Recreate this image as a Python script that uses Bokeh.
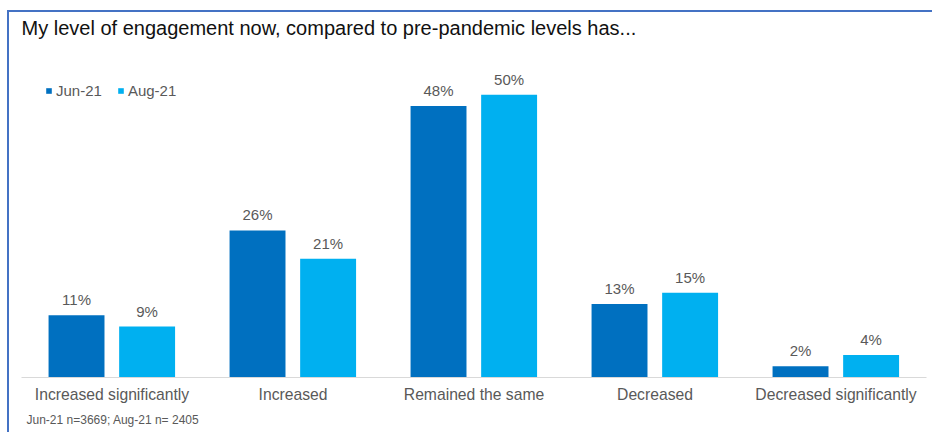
from bokeh.plotting import figure
from bokeh.models import ColumnDataSource, FactorRange, Range1d, LabelSet, Legend, LegendItem, Title
from bokeh.core.properties import value
from bokeh.transform import dodge
from bokeh.embed import file_html
from bokeh.resources import INLINE

categories = ["Increased significantly", "Increased", "Remained the same", "Decreased", "Decreased significantly"]
series_names = ["Jun-21", "Aug-21"]
jun21 = [11, 26, 48, 13, 2]
aug21 = [9, 21, 50, 15, 4]
title_text = "My level of engagement now, compared to pre-pandemic levels has..."
footnote = "Jun-21 n=3669; Aug-21 n= 2405"

colors = ["#0070C0", "#00B0F0"]
FONT = "Liberation Sans"
GRAY = "#595959"
FRAME_BLUE = "#4472C4"

src = ColumnDataSource(dict(
    cat=categories, jun=jun21, aug=aug21,
    jun_lbl=[f"{v}%" for v in jun21], aug_lbl=[f"{v}%" for v in aug21]))

p = figure(width=925, height=423,
           x_range=FactorRange(factors=categories, range_padding=0),
           y_range=Range1d(0, 59.07),
           output_backend="svg", toolbar_location=None, title=title_text,
           min_border_left=14, min_border_right=6, min_border_top=34, min_border_bottom=55)
p.border_fill_alpha = 0
p.background_fill_alpha = 0
grad = f"linear-gradient({FRAME_BLUE}, {FRAME_BLUE})"
p.styles = {"margin-left": "7px", "margin-top": "9px",
            "background-color": "white",
            "background-image": f"{grad}, {grad}",
            "background-position": "0px 1px, 0px 1px",
            "background-size": "100% 2px, 2px 100%",
            "background-repeat": "no-repeat, no-repeat"}

p.title.text_font = FONT
p.title.text_font_size = "20px"
p.title.text_font_style = "normal"
p.title.text_color = "#111111"
p.title.align = "left"
p.title.offset = 0
p.title.standoff = 10

off_jun, off_aug, bw = -0.196, 0.194, 0.309
r1 = p.vbar(x=dodge("cat", off_jun, range=p.x_range), top="jun", width=bw, source=src,
            fill_color=colors[0], line_color=None)
r2 = p.vbar(x=dodge("cat", off_aug, range=p.x_range), top="aug", width=bw, source=src,
            fill_color=colors[1], line_color=None)

for off, col in [(off_jun, "jun"), (off_aug, "aug")]:
    p.add_layout(LabelSet(x=dodge("cat", off, range=p.x_range), y=col, text=col + "_lbl", source=src,
                          text_align="center", text_baseline="alphabetic", y_offset=10,
                          text_font=value(FONT), text_font_size=value("15px"), text_color=GRAY))

legend = Legend(items=[LegendItem(label=series_names[0], renderers=[r1]),
                       LegendItem(label=series_names[1], renderers=[r2])],
                orientation="horizontal", location=(24, 278), margin=0, padding=0,
                glyph_width=7, glyph_height=7, label_standoff=4, spacing=15,
                label_text_font=FONT, label_text_font_size="15px", label_text_color=GRAY,
                border_line_color=None, background_fill_alpha=0)
p.add_layout(legend, "center")

p.yaxis.visible = False
p.xgrid.grid_line_color = None
p.ygrid.grid_line_color = None
p.outline_line_color = None
p.xaxis.axis_line_color = "#D9D9D9"
p.xaxis.major_tick_line_color = None
p.xaxis.minor_tick_line_color = None
p.xaxis.major_label_text_font = FONT
p.xaxis.major_label_text_font_size = "15.7px"
p.xaxis.major_label_text_color = GRAY
p.xaxis.major_label_standoff = 2

p.add_layout(Title(text=footnote, text_font=FONT, text_font_size="12px", text_font_style="normal",
                   text_color=GRAY, align="left", offset=5, standoff=11), "below")

open("out.html", "w").write(file_html(p, INLINE))
